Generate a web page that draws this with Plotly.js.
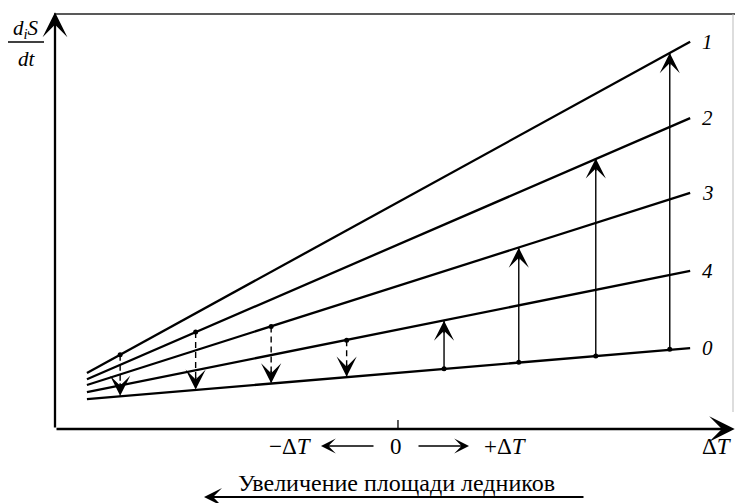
<!DOCTYPE html>
<html><head><meta charset="utf-8">
<script src="https://cdn.plot.ly/plotly-3.0.1.min.js"></script>
<style>html,body{margin:0;padding:0;background:#fff}#chart{width:735px;height:503px}</style>
</head><body><div id="chart"></div>
<script>
// ---- data ----
const lineNames = ['1', '2', '3', '4', '0'];
const lineX = [-4.12, 3.87];
const line1 = [13.5, 93.3];
const line2 = [12.0, 74.9];
const line3 = [10.6, 56.9];
const line4 = [8.9, 38.1];
const line0 = [7.2, 19.5];
const arrowX = [-3.68, -2.68, -1.68, -0.68, 0.61, 1.60, 2.62, 3.60];
const arrowFrom = [17.9, 23.4, 24.7, 21.4, 14.5, 16.1, 17.6, 19.2];
const arrowTo = [8.0, 9.5, 11.0, 12.6, 26.1, 43.7, 65.2, 90.6];
const arrowDash = [true, true, true, true, false, false, false, false];
const labelX = 4.1;
const tickLabels = ['\u2212\u0394<i>T</i>', '0', '+\u0394<i>T</i>', '\u0394<i>T</i>'];
const tickLabelX = [-1.43, -0.03, 1.43, 4.225];
const axisCaption = 'Увеличение площади ледников';
const yLabelTop = '<i>d<sub>i</sub>S</i>';
const yLabelBottom = '<i>dt</i>';

// ---- layout helpers ----
const W = 735, H = 503;
const px = v => v / W;
const py = v => 1 - v / H;
const FONT = '"Liberation Serif", "Times New Roman", serif';
const lines = [line1, line2, line3, line4, line0];

const traces = [];
lines.forEach((ys, i) => {
  traces.push({x: lineX, y: ys, mode: 'lines', type: 'scatter', name: lineNames[i],
    line: {color: '#000', width: 2.3}, hoverinfo: 'skip', showlegend: false, cliponaxis: false});
});
arrowX.forEach((x, i) => {
  traces.push({x: [x, x], y: [arrowFrom[i], arrowTo[i]], mode: 'lines', type: 'scatter',
    line: {color: '#000', width: 1.4, dash: arrowDash[i] ? '6px,4px' : 'solid'},
    hoverinfo: 'skip', showlegend: false});
});
traces.push({x: arrowX, y: arrowFrom, mode: 'markers', type: 'scatter',
  marker: {color: '#000', size: 5}, hoverinfo: 'skip', showlegend: false});

const ann = [];
// arrow heads
arrowX.forEach((x, i) => {
  ann.push({x: x, y: arrowTo[i], xref: 'x', yref: 'y', text: '', showarrow: true,
    ax: 0, ay: arrowDash[i] ? -14 : 14, arrowhead: 3, arrowsize: 2.4, arrowwidth: 1.4, arrowcolor: '#000'});
});
// line labels
lines.forEach((ys, i) => {
  ann.push({x: labelX, y: ys[1], xref: 'x', yref: 'y', text: '<i>' + lineNames[i] + '</i>', showarrow: false,
    font: {family: FONT, size: 21, color: '#000'}, xanchor: 'center', yanchor: 'middle'});
});
// axes arrows
ann.push({x: -4.543, y: 100.4, xref: 'x', yref: 'y', axref: 'x', ayref: 'y', ax: -4.543, ay: 0,
  text: '', showarrow: true, arrowhead: 3, arrowsize: 1.8, arrowwidth: 2.3, arrowcolor: '#000'});
ann.push({x: 4.46, y: 0, xref: 'x', yref: 'y', axref: 'x', ayref: 'y', ax: -4.543, ay: 0,
  text: '', showarrow: true, arrowhead: 3, arrowsize: 1.7, arrowwidth: 2.5, arrowcolor: '#000'});
// tick labels
tickLabels.forEach((t, i) => {
  ann.push({x: tickLabelX[i], y: py(446), xref: 'x', yref: 'paper', text: t, showarrow: false,
    font: {family: FONT, size: 23, color: '#000'}, xanchor: 'center', yanchor: 'middle'});
});
// small arrows between tick labels
ann.push({x: px(321), y: py(446), xref: 'paper', yref: 'paper', text: '', showarrow: true,
  ax: 54, ay: 0, arrowhead: 3, arrowsize: 1.9, arrowwidth: 1.3, arrowcolor: '#000'});
ann.push({x: px(469), y: py(446), xref: 'paper', yref: 'paper', text: '', showarrow: true,
  ax: -52, ay: 0, arrowhead: 3, arrowsize: 1.9, arrowwidth: 1.3, arrowcolor: '#000'});
// caption and its arrow
ann.push({x: px(396), y: py(483), xref: 'paper', yref: 'paper', text: axisCaption, showarrow: false,
  font: {family: FONT, size: 24, color: '#000'}, xanchor: 'center', yanchor: 'middle'});
ann.push({x: px(204), y: py(497), xref: 'paper', yref: 'paper', text: '', showarrow: true,
  ax: 381, ay: 0, arrowhead: 3, arrowsize: 1.5, arrowwidth: 2, arrowcolor: '#000'});
// y label
ann.push({x: px(26), y: py(29), xref: 'paper', yref: 'paper', text: yLabelTop, showarrow: false,
  font: {family: FONT, size: 21, color: '#000'}, xanchor: 'center', yanchor: 'middle'});
ann.push({x: px(27), y: py(59), xref: 'paper', yref: 'paper', text: yLabelBottom, showarrow: false,
  font: {family: FONT, size: 21, color: '#000'}, xanchor: 'center', yanchor: 'middle'});

const shapes = [
  {type: 'line', xref: 'paper', yref: 'paper', x0: px(8), x1: px(44), y0: py(42), y1: py(42),
    line: {color: '#000', width: 1.6}},
  {type: 'line', xref: 'paper', yref: 'paper', x0: px(54), x1: px(735), y0: py(14), y1: py(14),
    line: {color: '#222', width: 1.6}},
  {type: 'line', xref: 'paper', yref: 'paper', x0: px(733), x1: px(733), y0: py(14), y1: py(412),
    line: {color: '#bbb', width: 1}},
  {type: 'line', xref: 'x', yref: 'paper', x0: 0, x1: 0, y0: py(420), y1: py(429),
    line: {color: '#000', width: 1.3}}
];

const layout = {
  width: W, height: H, margin: {l: 0, r: 0, t: 0, b: 0},
  paper_bgcolor: '#fff', plot_bgcolor: '#fff', showlegend: false,
  xaxis: {domain: [px(55), 1], range: [-4.543, 4.464], visible: false, fixedrange: true},
  yaxis: {domain: [py(429), py(14)], range: [0, 100], visible: false, fixedrange: true},
  annotations: ann, shapes: shapes
};
Plotly.newPlot('chart', traces, layout, {staticPlot: true});
</script>
</body></html>
